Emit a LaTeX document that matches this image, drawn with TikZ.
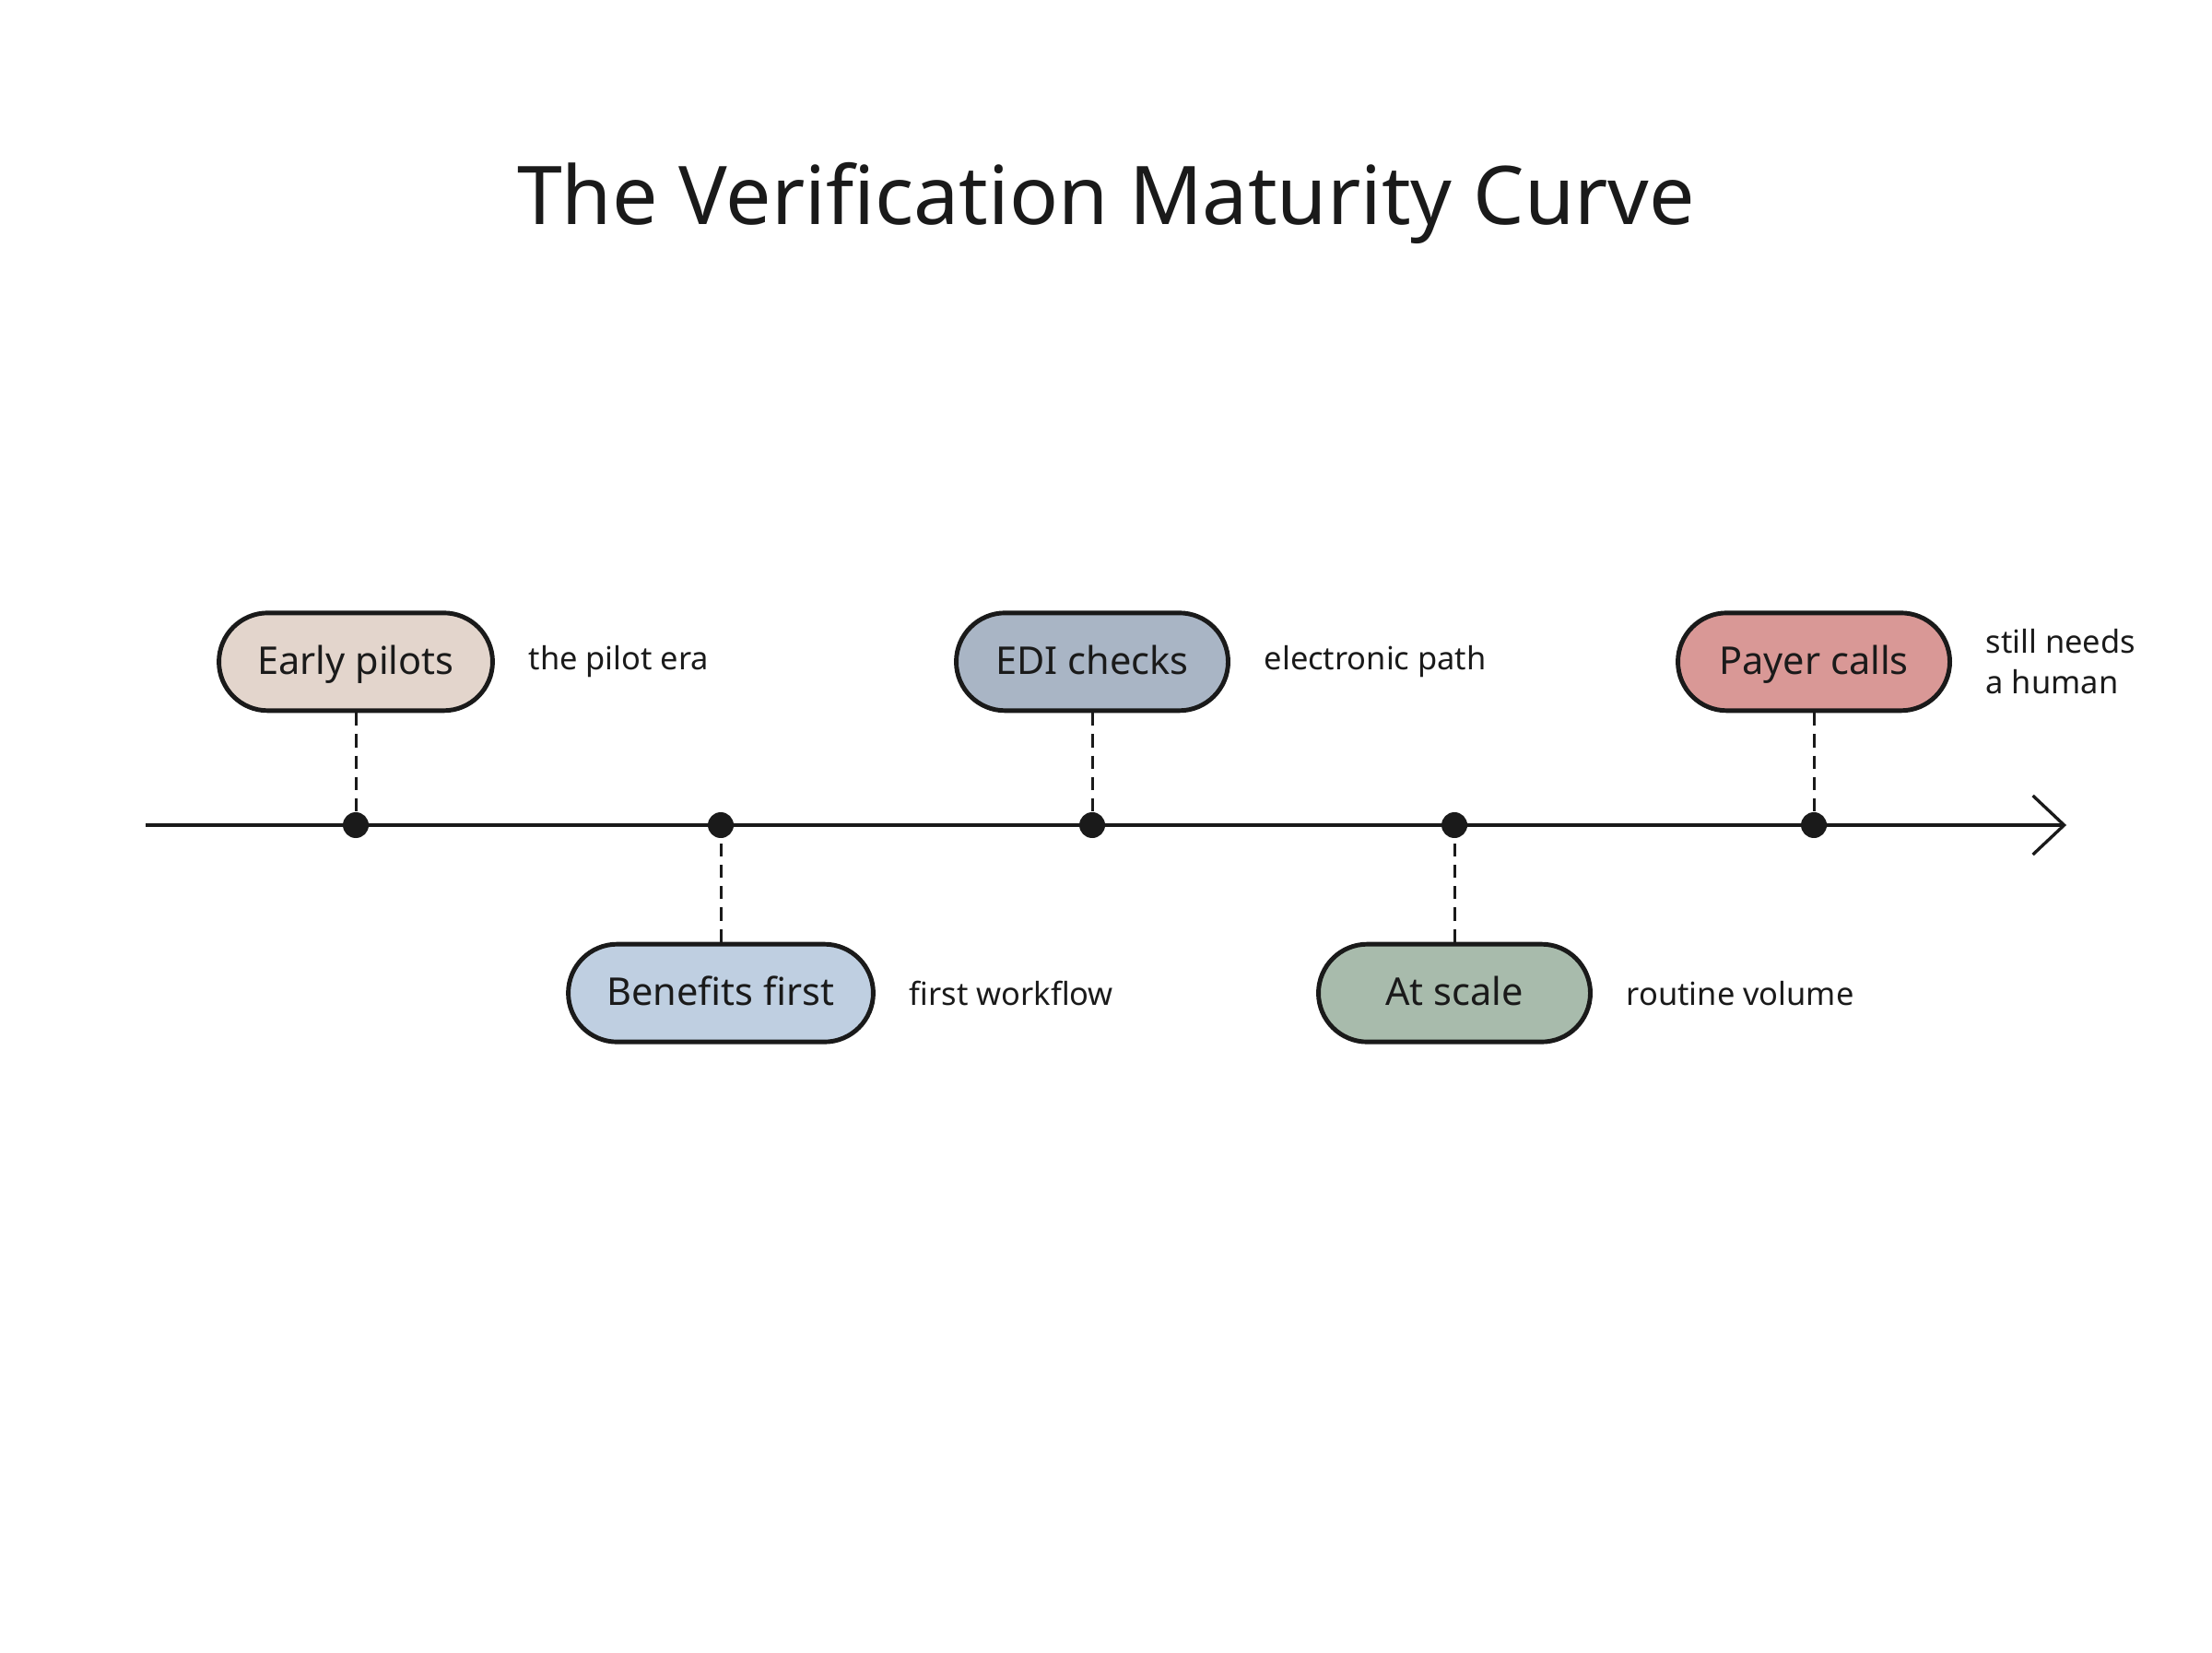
\documentclass[tikz,border=0pt]{standalone}
\usepackage{fontspec}
\setmainfont{Noto Sans}
\definecolor{myInk}{RGB}{26,26,26}
\definecolor{mySand}{RGB}{227,213,204}
\definecolor{mySky}{RGB}{191,207,225}
\definecolor{mySlate}{RGB}{169,181,197}
\definecolor{mySage}{RGB}{168,187,172}
\definecolor{myRose}{RGB}{217,152,150}
\usetikzlibrary{arrows.meta,positioning}

\begin{document}
\begin{tikzpicture}[
        stage/.style={draw=myInk, line width=1.4pt, rounded corners=0.53cm,
            minimum height=1.06cm, minimum width=2.95cm, inner xsep=0.42cm,
            text height=1.65ex, text depth=0.2ex, text=myInk,
            font=\fontsize{11.8}{14}\selectfont},
        dot/.style={circle, fill=myInk, inner sep=0pt, minimum size=0.28cm},
        note/.style={text=myInk, align=left, inner sep=0pt, font=\fontsize{9.8}{12.6}\selectfont},
        node distance=1.12cm
    ]
                \useasboundingbox (0,0) rectangle (24,17.92);
                \node[text=myInk, font=\fontsize{25}{30}\selectfont] (title) at (12,15.72) {The Verification Maturity Curve};

                % time axis
                \coordinate (start) at (1.58,8.97);
                \coordinate (stop) at (22.42,8.97);
                \draw[myInk, line width=0.95pt, -{Straight Barb[length=0.34cm, width=0.64cm, line width=0.95pt]}] (start) -- (stop);

                \node[dot] (d1) at (3.86,8.97) {};
                \node[dot] (d2) at (7.82,8.97) {};
                \node[dot] (d3) at (11.85,8.97) {};
                \node[dot] (d4) at (15.78,8.97) {};
                \node[dot] (d5) at (19.68,8.97) {};

                % stages above and below the axis
                \node[stage, fill=mySand, above=1.07cm of d1] (early) {Early pilots};
                \node[stage, fill=mySky, below=of d2] (benefits) {Benefits first};
                \node[stage, fill=mySlate, above=1.07cm of d3] (edi) {EDI checks};
                \node[stage, fill=mySage, below=of d4] (scale) {At scale};
                \node[stage, fill=myRose, above=1.07cm of d5] (payer) {Payer calls};

                \node[note, right=0.36cm of early] (n1) {the pilot era};
                \node[note, right=0.36cm of benefits] (n2) {first workflow};
                \node[note, right=0.36cm of edi] (n3) {electronic path};
                \node[note, right=0.36cm of scale] (n4) {routine volume};
                \node[note, right=0.36cm of payer] (n5) {still needs\\a human};

                \draw[myInk, line width=0.85pt, dash pattern=on 4pt off 2.6pt] (early) -- (d1);
                \draw[myInk, line width=0.85pt, dash pattern=on 4pt off 2.6pt] (benefits) -- (d2);
                \draw[myInk, line width=0.85pt, dash pattern=on 4pt off 2.6pt] (edi) -- (d3);
                \draw[myInk, line width=0.85pt, dash pattern=on 4pt off 2.6pt] (scale) -- (d4);
                \draw[myInk, line width=0.85pt, dash pattern=on 4pt off 2.6pt] (payer) -- (d5);
\end{tikzpicture}
\end{document}
